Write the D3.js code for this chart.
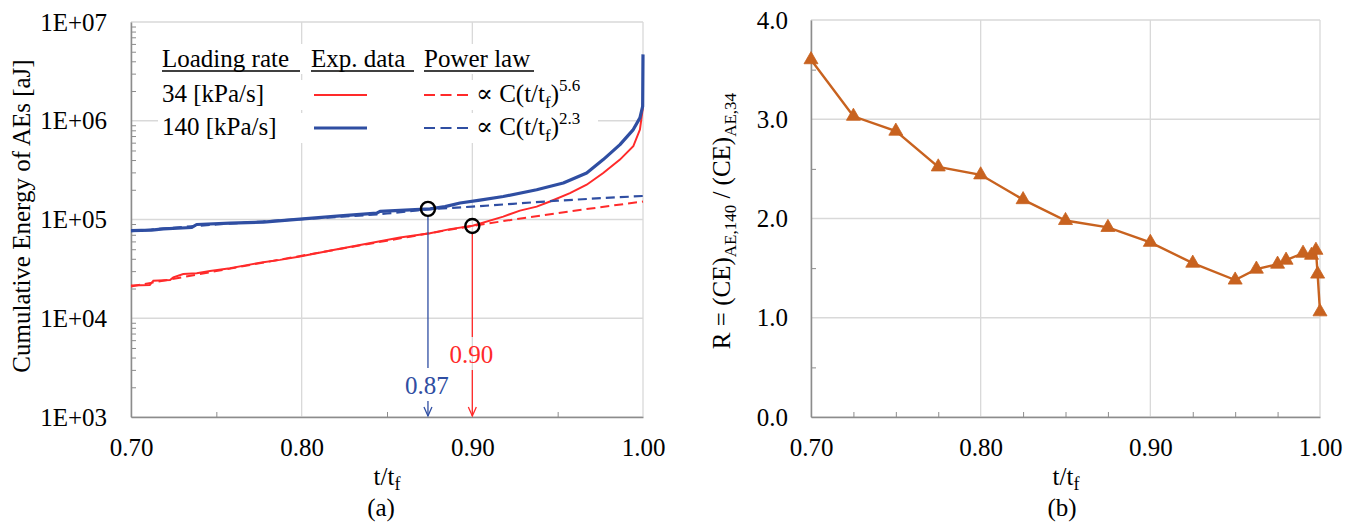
<!DOCTYPE html>
<html>
<head>
<meta charset="utf-8">
<script src="https://cdn.jsdelivr.net/npm/d3@7"></script>
<style>
  html, body { margin: 0; padding: 0; background: #fff; }
  svg { display: block; }
  svg text { font-family: "Liberation Serif", Tinos, "DejaVu Serif", "Noto Serif", serif !important; fill: #000; }
</style>
</head>
<body>
<svg id="fig" width="1357" height="525"></svg>
<script>
// ---------- data ----------
const xTicks = [0.70, 0.80, 0.90, 1.00];
const xTickLabels = ["0.70", "0.80", "0.90", "1.00"];

const yTicksA = [1e3, 1e4, 1e5, 1e6, 1e7];
const yTickLabelsA = ["1E+03", "1E+04", "1E+05", "1E+06", "1E+07"];

const yTicksB = [0, 1, 2, 3, 4];
const yTickLabelsB = ["0.0", "1.0", "2.0", "3.0", "4.0"];

// cumulative AE energy [aJ], 34 kPa/s
const tExp34 = [0.700, 0.711, 0.7131, 0.7229, 0.7248, 0.7306, 0.7385, 0.7463, 0.758, 0.7678,
  0.7775, 0.7873, 0.799, 0.8185, 0.8381, 0.8576, 0.8752, 0.8869, 0.9002, 0.9181,
  0.9279, 0.9377, 0.9455, 0.9572, 0.967, 0.9767, 0.9865, 0.9943, 0.9982, 0.9998, 1.000];
const ceExp34 = [2.14e4, 2.17e4, 2.40e4, 2.44e4, 2.60e4, 2.81e4, 2.86e4, 3.01e4, 3.21e4, 3.45e4,
  3.70e4, 3.90e4, 4.21e4, 4.92e4, 5.67e4, 6.56e4, 7.27e4, 7.99e4, 8.64e4, 1.07e5,
  1.23e5, 1.35e5, 1.52e5, 1.85e5, 2.25e5, 2.96e5, 4.04e5, 5.51e5, 8.14e5, 1.30e6, 1.55e6];

// cumulative AE energy [aJ], 140 kPa/s
const tExp140 = [0.700, 0.712, 0.719, 0.7356, 0.7385, 0.758, 0.7775, 0.799, 0.8225, 0.844,
  0.8459, 0.8752, 0.884, 0.8928, 0.9045, 0.9181, 0.9377, 0.9533, 0.967, 0.9767,
  0.9865, 0.9943, 0.9982, 0.9998, 1.000];
const ceExp140 = [7.7e4, 7.8e4, 8.05e4, 8.3e4, 8.9e4, 9.2e4, 9.4e4, 1.01e5, 1.09e5, 1.16e5,
  1.21e5, 1.28e5, 1.35e5, 1.47e5, 1.57e5, 1.71e5, 2.00e5, 2.34e5, 2.96e5, 4.04e5,
  5.73e5, 8.14e5, 1.07e6, 1.40e6, 4.7e6];

// power-law fits
const tFit34 = [0.70, 0.75, 0.80, 0.85, 0.90, 0.95, 1.00];
const ceFit34 = [2.1e4, 3.0e4, 4.3e4, 6.1e4, 8.6e4, 1.16e5, 1.52e5];
const tFit140 = [0.70, 0.75, 0.80, 0.85, 0.875, 0.90, 0.95, 1.00];
const ceFit140 = [7.6e4, 8.9e4, 1.01e5, 1.15e5, 1.27e5, 1.35e5, 1.55e5, 1.73e5];

// departure points from the power law
const onsetT = [0.874, 0.900];
const onsetCE = [1.28e5, 8.6e4];

// ratio R = CE_140 / CE_34
const tRatio = [0.70, 0.725, 0.75, 0.775, 0.80, 0.825, 0.85, 0.875, 0.90, 0.925,
  0.95, 0.9625, 0.975, 0.98, 0.99, 0.995, 0.9976, 0.9986, 1.00];
const ratio = [3.60, 3.03, 2.88, 2.52, 2.44, 2.19, 1.98, 1.91, 1.76, 1.55,
  1.38, 1.49, 1.54, 1.58, 1.65, 1.63, 1.68, 1.44, 1.06];

const legendRates = ["34 [kPa/s]", "140 [kPa/s]"];
const legendExponents = ["5.6", "2.3"];

// ---------- styles ----------
const RED = "#ff2a2a";
const BLUE = "#2f4ea2";
const ORANGE = "#c8621f";
const GRID = "#d9d9d9";
const AXIS = "#8c8c8c";
const FS = 25;
const FONT = '"Liberation Serif", Tinos, "DejaVu Serif", "Noto Serif", serif';

const svg = d3.select("#fig").attr("font-family", FONT);

const A = { left: 131, right: 643, top: 22, bottom: 417 };
const B = { left: 811, right: 1320, top: 20, bottom: 417 };

const xA = d3.scaleLinear().domain([0.7, 1.0]).range([A.left, A.right]);
const yA = d3.scaleLog().domain([1e3, 1e7]).range([A.bottom, A.top]);
const xB = d3.scaleLinear().domain([0.7, 1.0]).range([B.left, B.right]);
const yB = d3.scaleLinear().domain([0, 4]).range([B.bottom, B.top]);

function frame(g, P, xs, ys, xT, yT) {
  g.append("g").selectAll("line").data(yT).join("line")
    .attr("x1", P.left).attr("x2", P.right)
    .attr("y1", d => ys(d)).attr("y2", d => ys(d))
    .attr("stroke", GRID).attr("stroke-width", 1.3);
  g.append("g").selectAll("line").data(xT).join("line")
    .attr("y1", P.top).attr("y2", P.bottom)
    .attr("x1", d => xs(d)).attr("x2", d => xs(d))
    .attr("stroke", GRID).attr("stroke-width", 1.3);
}

function axes(g, P, xs, ys, yTV, yTL, xMinor, yMinor, yPad) {
  const gx = g.append("g").attr("transform", `translate(0,${P.bottom})`)
    .call(d3.axisBottom(xs).tickValues(xTicks).tickFormat((d, i) => xTickLabels[i]).tickSize(0).tickPadding(21));
  gx.attr("font-family", FONT);
  gx.select(".domain").attr("stroke", AXIS).attr("stroke-width", 1.5);
  gx.selectAll("text").attr("font-size", FS);

  const gxm = g.append("g").attr("transform", `translate(0,${P.bottom})`)
    .call(d3.axisBottom(xs).tickValues(xMinor).tickFormat("").tickSize(-5));
  gxm.select(".domain").remove();
  gxm.selectAll("line").attr("stroke", AXIS);

  const gy = g.append("g").attr("transform", `translate(${P.left},0)`)
    .call(d3.axisLeft(ys).tickValues(yTV).tickFormat((d, i) => yTL[i]).tickSize(0).tickPadding(yPad));
  gy.attr("font-family", FONT);
  gy.select(".domain").attr("stroke", AXIS).attr("stroke-width", 1.5);
  gy.selectAll("text").attr("font-size", FS);

  const gym = g.append("g").attr("transform", `translate(${P.left},0)`)
    .call(d3.axisLeft(ys).tickValues(yMinor).tickFormat("").tickSize(-5));
  gym.select(".domain").remove();
  gym.selectAll("line").attr("stroke", AXIS);
}

// ---------- panel (a) ----------
const ga = svg.append("g");
frame(ga, A, xA, yA, xTicks, yTicksA);

const logMinor = [];
for (let k = 3; k < 7; k++) for (let m = 2; m <= 9; m++) logMinor.push(m * Math.pow(10, k));
axes(ga, A, xA, yA, yTicksA, yTickLabelsA, [0.75, 0.85, 0.95], logMinor, 24);

const lineA = (ts, vs) => d3.line().x((d, i) => xA(ts[i])).y((d, i) => yA(vs[i]))(ts);
const smoothA = (ts, vs) => d3.line().curve(d3.curveMonotoneX).x((d, i) => xA(ts[i])).y((d, i) => yA(vs[i]))(ts);

ga.append("path").attr("d", lineA(tExp34, ceExp34))
  .attr("fill", "none").attr("stroke", RED).attr("stroke-width", 2);
ga.append("path").attr("d", smoothA(tFit34, ceFit34))
  .attr("fill", "none").attr("stroke", RED).attr("stroke-width", 2).attr("stroke-dasharray", "9,5");
ga.append("path").attr("d", smoothA(tFit140, ceFit140))
  .attr("fill", "none").attr("stroke", BLUE).attr("stroke-width", 2.2).attr("stroke-dasharray", "9,5");
ga.append("path").attr("d", lineA(tExp140, ceExp140))
  .attr("fill", "none").attr("stroke", BLUE).attr("stroke-width", 3.2).attr("stroke-linejoin", "round");

// onset markers with arrows down to the t-axis
const onsetColors = [BLUE, RED];
const onsetLabelY = [394, 363];
const fmt2 = d3.format(".2f");
onsetT.forEach((t, i) => {
  const x = xA(t), yc = yA(onsetCE[i]), r = 7;
  const c = onsetColors[i], ly = onsetLabelY[i];
  ga.append("line").attr("x1", x).attr("x2", x).attr("y1", yc + r).attr("y2", ly - 26)
    .attr("stroke", c).attr("stroke-width", 1.3);
  ga.append("line").attr("x1", x).attr("x2", x).attr("y1", ly + 7).attr("y2", A.bottom - 1)
    .attr("stroke", c).attr("stroke-width", 1.3);
  ga.append("path").attr("d", `M${x - 4},${A.bottom - 10}L${x},${A.bottom - 1}L${x + 4},${A.bottom - 10}`)
    .attr("fill", "none").attr("stroke", c).attr("stroke-width", 1.3);
  ga.append("text").attr("x", x - 1).attr("y", ly).attr("text-anchor", "middle")
    .attr("font-size", FS).style("fill", c).text(fmt2(t));
  ga.append("circle").attr("cx", x).attr("cy", yc).attr("r", r)
    .attr("fill", "none").attr("stroke", "#000").attr("stroke-width", 2.4);
});

// legend
const legendHead = [
  { text: "Loading rate", x: 162, w: 138 },
  { text: "Exp. data", x: 311, w: 103 },
  { text: "Power law", x: 424, w: 110 }
];
legendHead.forEach(h => {
  ga.append("rect").attr("x", h.x - 2).attr("y", 44).attr("width", h.w + 6).attr("height", 30).attr("fill", "#fff");
  ga.append("text").attr("x", h.x).attr("y", 67).attr("font-size", FS).text(h.text);
  ga.append("line").attr("x1", h.x).attr("x2", h.x + h.w).attr("y1", 71).attr("y2", 71)
    .attr("stroke", "#000").attr("stroke-width", 1.6);
});
const legendColors = [RED, BLUE];
const legendRowY = [102, 135];
legendRates.forEach((lab, i) => {
  const y = legendRowY[i];
  ga.append("rect").attr("x", 158).attr("y", y - 22).attr("width", 440).attr("height", 30).attr("fill", "#fff");
  ga.append("text").attr("x", 162).attr("y", y).attr("font-size", FS).text(lab);
  ga.append("line").attr("x1", 314).attr("x2", 367).attr("y1", y - 7).attr("y2", y - 7)
    .attr("stroke", legendColors[i]).attr("stroke-width", i ? 3.2 : 2);
  ga.append("line").attr("x1", 424).attr("x2", 469).attr("y1", y - 7).attr("y2", y - 7)
    .attr("stroke", legendColors[i]).attr("stroke-width", 2.2).attr("stroke-dasharray", "11,5.5");
  const t = ga.append("text").attr("x", 476).attr("y", y).attr("font-size", FS);
  t.append("tspan").text("\u221D C(t/t");
  t.append("tspan").attr("font-size", 17).attr("dy", 6).text("f");
  t.append("tspan").attr("dy", -6).text(")");
  t.append("tspan").attr("font-size", 17).attr("dy", -11).text(legendExponents[i]);
});

// axis titles (a)
ga.append("text").attr("transform", "translate(30,216) rotate(-90)").attr("text-anchor", "middle")
  .attr("font-size", FS).text("Cumulative Energy of AEs [aJ]");

function tTitle(g, cx) {
  const t = g.append("text").attr("x", cx).attr("y", 485).attr("text-anchor", "middle").attr("font-size", FS);
  t.append("tspan").text("t/t");
  t.append("tspan").attr("font-size", 18).attr("dy", 5).text("f");
}
tTitle(ga, 387);
ga.append("text").attr("x", 381).attr("y", 516).attr("text-anchor", "middle").attr("font-size", FS).text("(a)");

// ---------- panel (b) ----------
const gb = svg.append("g");
frame(gb, B, xB, yB, xTicks, yTicksB);
const minorB = [0.725, 0.75, 0.775, 0.825, 0.85, 0.875, 0.925, 0.95, 0.975];
axes(gb, B, xB, yB, yTicksB, yTickLabelsB, minorB, [0.5, 1.5, 2.5, 3.5], 23);

gb.append("path")
  .attr("d", d3.line().x((d, i) => xB(tRatio[i])).y((d, i) => yB(ratio[i]))(tRatio))
  .attr("fill", "none").attr("stroke", ORANGE).attr("stroke-width", 2.4);
gb.append("g").selectAll("path").data(tRatio).join("path")
  .attr("transform", (d, i) => `translate(${xB(d)},${yB(ratio[i])})`)
  .attr("d", d3.symbol().type(d3.symbolTriangle).size(85))
  .attr("fill", ORANGE).attr("stroke", ORANGE).attr("stroke-width", 0.8);

const rt = gb.append("text").attr("transform", "translate(730,221) rotate(-90)")
  .attr("text-anchor", "middle").attr("font-size", FS);
rt.append("tspan").text("R = (CE)");
rt.append("tspan").attr("font-size", 17).attr("dy", 6).text("AE,140");
rt.append("tspan").attr("dy", -6).text(" / (CE)");
rt.append("tspan").attr("font-size", 17).attr("dy", 6).text("AE,34");

tTitle(gb, 1066);
gb.append("text").attr("x", 1062).attr("y", 516).attr("text-anchor", "middle").attr("font-size", FS).text("(b)");
</script>
</body>
</html>
